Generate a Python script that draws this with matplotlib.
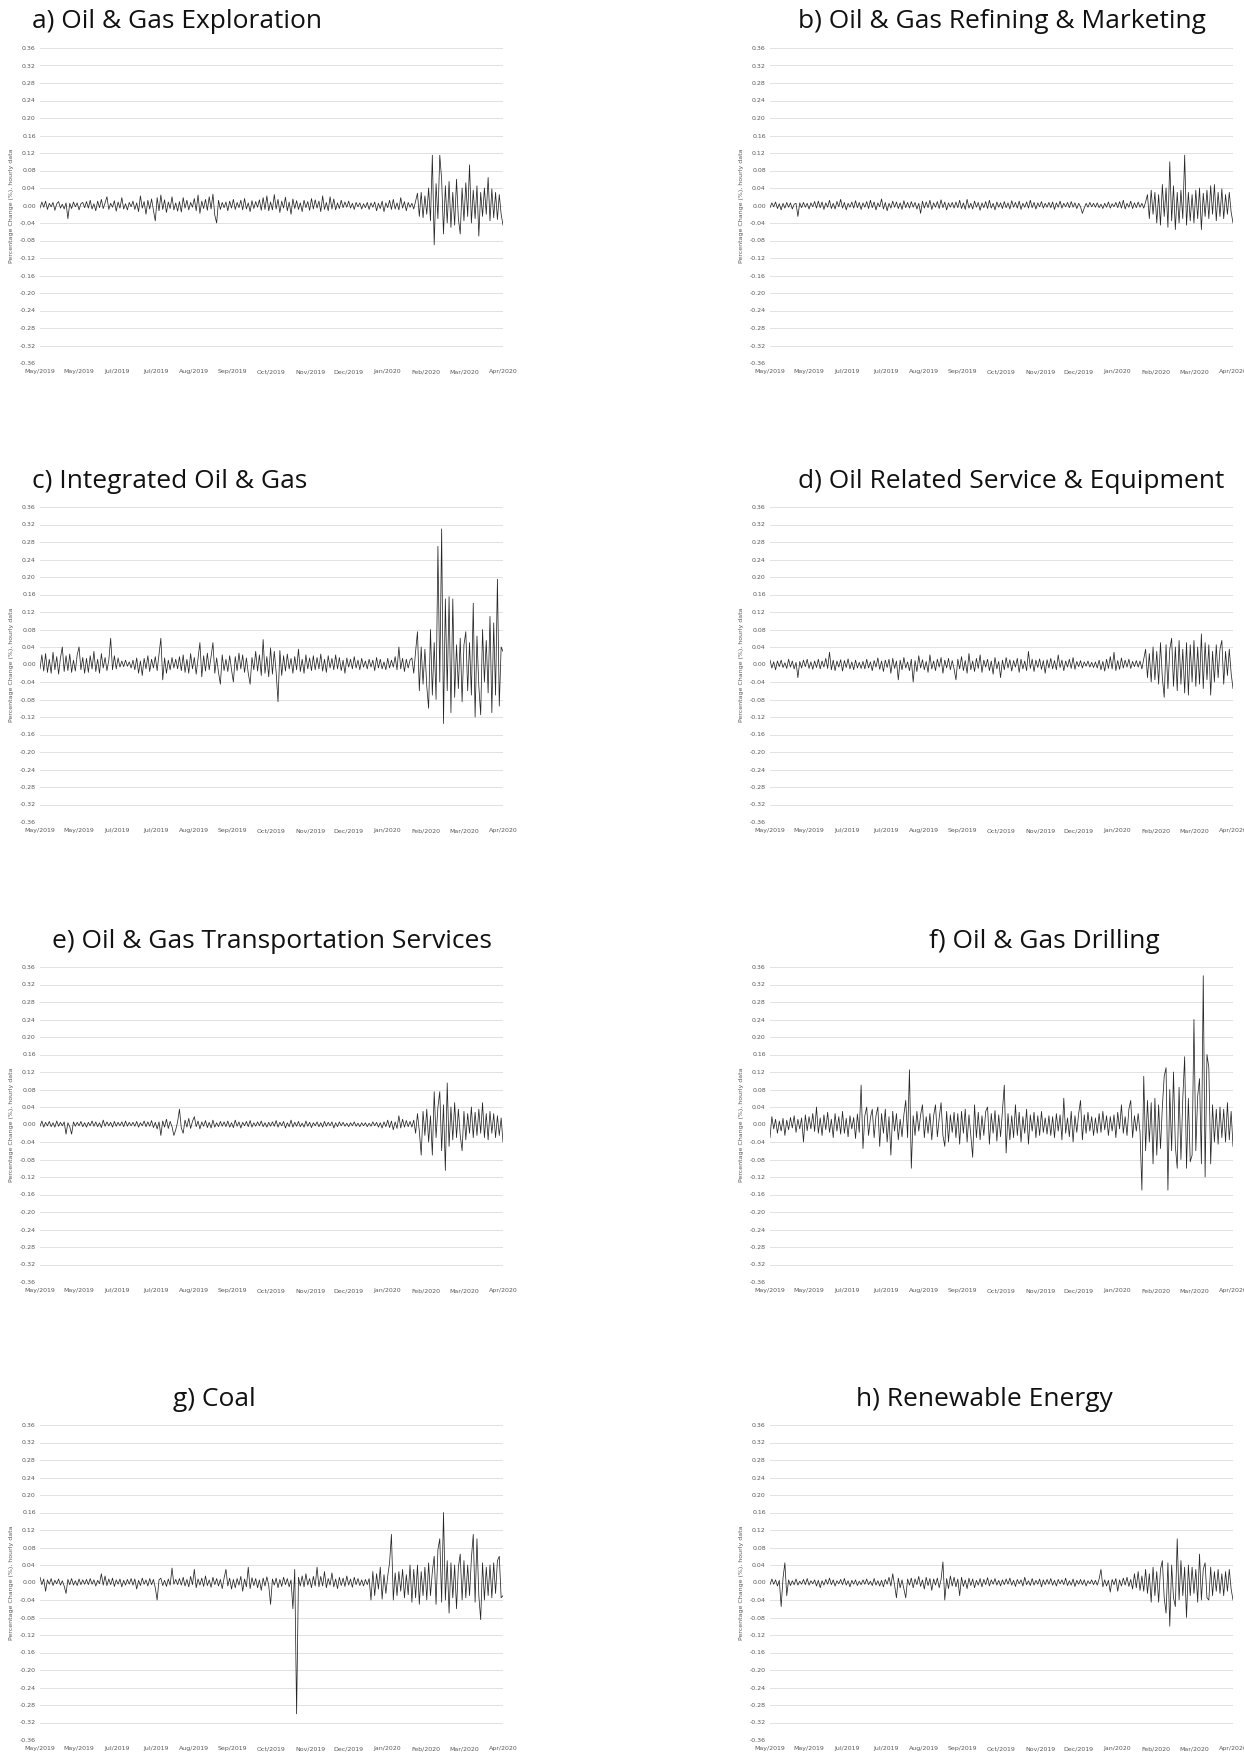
import numpy as np
import matplotlib
matplotlib.use('Agg')
import matplotlib.pyplot as plt

# Hourly percentage change per sector.
# Values are in thousandths (e.g. 115 -> 0.115), 250 samples each.
exploration = [
    -6, 8, -4, 10, -9, 5, -3, 7, -11, 4, 9, -6, 3, -8, 6, -30, 5, -7, 8, -3, 6, -10, 4, 7, -5,
    9, -6, 12, -8, 4, -12, 10, -5, 14, -7, 6, 20, -9, 5, -4, 11, -13, 8, -6, 18, -8, 4, -10, 7, -3,
    10, -9, 6, -14, 22, -6, 9, -20, 12, -8, 15, -11, -35, 18, -12, 24, -9, 13, -16, 8, -7, 20, -10, 6, -13,
    9, -15, 18, -6, 12, -10, 7, -4, 16, -12, 24, -18, 10, -7, 14, -11, 20, -8, 26, -22, -40, 12, -9, 7, -5,
    8, -12, 10, -6, 14, -9, 7, -5, 12, -10, 16, -8, 6, -14, 11, -7, 9, -4, 13, -11, 18, -9, 22, -12, 8,
    -10, 25, -8, 14, -16, 10, -6, 19, -12, 8, -20, 15, -7, 11, -9, 6, -14, 12, -5, 9, -11, 16, -8, 13, -6,
    10, -14, 22, -9, 7, -12, 20, -8, 15, -10, 6, -7, 12, -5, 8, -4, 10, -6, 5, -9, 7, -3, 6, -8, 4,
    -5, 7, -9, 6, -4, 8, -12, 5, -7, 10, -14, 6, -5, 12, -9, 14, -8, 6, -10, 18, -6, 9, -12, 7, -4,
    5, -8, 10, 28, -25, 30, -28, 22, -20, 40, -35, 115, -90, 50, -30, 115, 60, -65, 45, -40, 55, -50, 30, -45, 60,
    -30, -65, 40, -35, 52, -25, 93, -40, 35, -30, 45, -70, 30, -25, 40, -20, 64, -35, 38, -28, 30, -32, 25, -20, -45,
]
refining = [
    -5, 6, -3, 8, -7, 4, -10, 5, -6, 7, -4, 6, -8, 3, 5, -25, 6, -5, 7, -4, 5, -8, 6, -3, 9,
    -6, 10, -5, 8, -9, 6, -4, 12, -7, 5, -8, 9, -3, 14, -6, 7, -10, 5, -4, 8, -6, 11, -5, 7, -9,
    6, -4, 9, -7, 12, -5, 8, -10, 6, -3, 15, -8, 7, -12, 5, -6, 10, -4, 8, -7, 6, -9, 11, -5, 7,
    -6, 9, -4, 7, -8, 5, -18, 10, -6, 8, -5, 12, -9, 6, -4, 9, -7, 13, -5, 8, -10, 6, -4, 7, -6,
    8, -5, 12, -7, 6, -9, 14, -6, 5, -8, 10, -4, 7, -11, 6, -5, 9, -7, 12, -6, 5, -10, 8, -4, 6,
    -7, 9, -5, 6, -8, 11, -4, 7, -6, 10, -9, 5, -4, 8, -6, 12, -5, 7, -8, 6, -3, 9, -6, 5, -4,
    7, -5, 8, -9, 6, -4, 10, -6, 5, -3, 7, -5, 9, -4, 6, -7, 5, -3, -18, -6, 5, -4, 7, -3, 5,
    -4, 6, -5, 3, -7, 5, -4, 8, -6, 4, -3, 7, -5, 9, -6, 12, -8, 5, -4, 10, -7, 6, -5, 8, -4,
    5, -6, 8, 25, -30, 35, -20, 30, -40, 25, -45, 48, -25, 40, -50, 100, -35, 45, -55, 30, -40, 35, -30, 115, -45,
    30, -35, 25, -40, 35, -30, 40, -55, 28, -25, 35, -30, 45, -20, 48, -35, 30, -25, 38, -30, 25, -20, 30, -15, -40,
]
integrated = [
    -10, 22, -15, 25, -18, 12, -20, 28, -12, 18, -22, 15, 40, -16, 20, -14, 24, -18, 10, -15, 22, 40, -12, 16, -20,
    14, -18, 20, -10, 30, -16, 12, -20, 25, -8, 16, -14, 10, 60, -12, 20, -10, 15, -6, 8, -5, 10, -4, 6, -8,
    10, -12, 15, -20, 8, -25, 14, -10, 20, -16, 12, -8, 18, -14, 22, 60, -35, 15, -20, 10, -12, 16, -8, 12, -10,
    18, -14, 22, -18, 12, -20, 25, -10, 16, -22, 14, 50, -28, 20, -15, 26, -12, 18, 50, -20, 15, -18, -45, 22, -14,
    12, -16, 20, -12, -40, 18, -14, 26, -10, 22, -18, 15, -20, -45, 16, -12, 30, -15, 22, -25, 57, -20, 18, -28, 38,
    -22, 30, -18, -85, 32, -25, 20, -15, 24, -10, 14, -20, 18, -12, 35, -16, 12, -20, 22, -10, 15, -14, 20, -12, 16,
    -10, 24, -15, 12, -18, 20, -8, 14, -12, 22, -10, 16, -14, 10, -20, 15, -6, 12, -10, 18, -8, 10, -12, 14, -6,
    8, -10, 12, -6, 10, -14, 16, -8, 12, -10, 6, -12, 14, -8, 10, -6, 18, -12, 40, -10, 14, -16, 12, -8, 10,
    15, -20, 30, 75, -60, 40, -45, 35, -50, -100, 80, -70, 50, -80, 270, -40, 310, -135, 150, -60, 155, -110, 150, -75, 45,
    -55, 60, -85, 45, 75, -60, 50, -70, 140, -120, 65, -50, -115, 80, -40, 55, -65, 110, -110, 95, -70, 195, -95, 40, 30,
]
service = [
    10, -8, 6, -12, 8, -5, 10, -7, 4, -9, 12, -6, 8, -10, 5, -30, 7, -8, 10, -5, 12, -9, 6, -11, 8,
    -7, 12, -10, 8, -6, 14, -9, 28, -12, 10, -14, 8, -6, 11, -15, 9, -7, 13, -10, 6, -12, 10, -8, 5, -9,
    7, -10, 12, -8, 6, -14, 9, -6, 15, -11, 8, -16, 10, -7, 12, -20, 14, -9, 8, -35, 10, -12, 16, -8, 6,
    -14, 12, -40, 9, -16, 20, -8, 11, -12, 7, -18, 22, -10, 8, -14, 12, -6, 16, -20, 10, -8, 14, -12, 9, -10,
    -35, 12, -10, 18, -14, 9, -20, 25, -12, 8, -16, 14, -9, 22, -18, 10, -6, 12, -14, 8, -22, 16, -10, 7, -30,
    10, -12, 16, -8, 11, -15, 9, -6, 14, -18, 12, -10, 8, -14, 30, -9, 12, -16, 10, -7, 13, -11, 9, -20, 11,
    -8, 14, -10, 9, -12, 22, -7, 10, -14, 8, -6, 12, -9, 16, -11, 7, -5, 9, -8, 6, -4, 8, -6, 5, -7,
    6, -8, 10, -12, 7, -15, 12, -9, 18, -10, 28, -14, 9, -11, 15, -8, 10, -6, 12, -9, 7, -5, 9, -6, 8,
    -10, 12, 35, -30, 25, -40, 40, -35, 30, -45, 50, -30, -75, 45, -55, 35, 60, -50, 40, -60, 55, -45, 35, -65, 50,
    -70, 45, -40, 55, -50, 40, -45, 70, -55, 50, -35, 45, -70, 30, -40, 45, -30, 35, 55, -45, 30, -25, 35, -20, -55,
]
transport = [
    -4, 8, -6, 5, -3, 7, -5, 4, -6, 8, -4, 5, -3, 6, -22, 4, -5, -22, 6, -4, 5, -3, 7, -5, 4,
    -6, 5, -3, 8, -4, 6, -5, 4, -7, 10, -4, 6, -3, 5, -6, 7, -4, 5, -3, 6, -5, 8, -4, 5, -3,
    5, -4, 7, -6, 4, -3, 8, -5, 6, -4, 9, -7, 5, -10, 6, -25, 8, -6, 12, -9, 7, -5, -25, -12, 6,
    35, -8, -20, 10, -6, 14, -9, 7, 18, -5, 8, -10, 6, -4, 9, -7, 5, -8, 10, -6, 4, -5, 7, -4, 6,
    -5, 8, -6, 4, -7, 10, -4, 6, -8, 5, -3, 7, -5, 9, -6, 4, -4, 6, -3, 8, -5, 4, -6, 5, -4,
    6, -4, 9, -6, 5, -3, 7, -8, 4, -5, 10, -6, 5, -4, 7, -5, 3, -6, 8, -4, 5, -7, 4, -3, 6,
    -5, 4, -6, 7, -4, 5, -3, 6, -8, 4, -5, 6, -3, 5, -4, 3, -5, 4, -3, 6, -4, 3, -5, 4, -3,
    4, -5, 3, -4, 6, -3, 5, -6, 4, -8, 6, -5, 10, -7, 8, -12, 6, -9, 20, -8, 12, -6, 9, -5, 7,
    -6, 10, -20, 25, -15, -70, 30, -25, 35, -40, 20, -70, 75, -30, 40, 75, -60, 45, -105, 95, -50, 40, -35, 50, -30,
    35, -25, -60, 30, -35, 25, -20, 40, -30, 28, -25, 35, -20, 50, -30, 25, -35, 30, -20, 25, -30, 20, -25, 15, -40,
]
drilling = [
    -30, 18, -10, 12, -20, 8, -15, 14, -25, 10, -12, 16, -8, 20, -18, 12, -10, 15, -40, 22, -14, 18, -10, 25, -16,
    40, -20, 15, -25, 22, -12, 28, -18, 12, -30, 25, -15, 18, -22, 30, -20, 14, -28, 20, -10, 16, -32, 24, -18, 90,
    -55, 20, 40, -25, 15, 35, -30, 20, 40, -50, 25, -20, 35, -40, 18, -70, 30, -15, 25, -35, 12, -28, 22, 55, -30,
    125, -100, 20, -25, 30, -15, 22, 45, -30, 18, -20, 25, -35, 20, 45, -28, 15, 50, -25, -50, 30, -40, 22, -18, 28,
    -30, 25, -45, 30, -20, 35, -40, 22, -25, -75, 45, -30, 28, -35, 20, -25, 30, 40, -45, 25, -20, 32, -38, 22, -28,
    30, 90, -65, 25, -35, 20, -30, 45, -25, 28, -40, 18, -20, 35, -45, 22, -15, 28, -30, 20, -25, 30, -18, 15, -22,
    20, -25, 18, -30, 25, -15, 22, -35, 60, -20, 15, -28, 30, -40, 20, -18, 25, 55, -35, 22, -20, 28, -15, 18, -25,
    15, -20, 25, -18, 30, -12, 20, -25, 18, -15, 22, -30, 28, -10, 45, -20, 18, -25, 35, 55, -30, 20, -15, 25, -18,
    -150, 110, -60, 55, -40, 50, -90, 60, -70, 45, -55, 40, 110, 130, -150, 80, -60, 120, -50, -100, 85, -80, 60, 155, -100,
    60, -85, -70, 240, -60, 65, 105, -90, 340, -120, 160, 130, -90, 45, -40, 35, -45, 40, -30, 35, -40, 50, -35, 30, -50,
]
coal = [
    12, -5, 8, -20, 6, -4, 9, -7, 5, -3, 8, -6, 4, -8, -25, 7, -5, 9, -6, 4, -7, 8, -5, 6, -4,
    7, -5, 9, -4, 6, -8, 5, -3, 20, -6, 15, -7, 8, -5, 10, -9, 6, -4, 8, -10, 5, -6, 7, -4, 9,
    -6, 8, -15, 5, -7, 10, -4, 6, -8, 9, -5, 7, -12, -40, 6, 10, -7, 5, -9, 8, -6, 33, -4, 7, -5,
    9, -6, 12, -8, 7, -10, 14, -5, 30, -12, 8, -6, 10, -9, 15, -7, 6, -11, 12, -5, 9, -8, 7, -14, 10,
    30, -8, 10, -15, 7, -12, 9, -6, 14, -20, 8, -10, 35, -14, 11, -7, 9, -12, 6, -18, 10, -8, 13, -6, -50,
    8, -6, 10, -12, 7, -9, 12, -5, 9, -10, 6, -60, 30, -300, 12, -8, 15, -10, 20, -6, 9, -12, 14, -8, 35,
    -10, 14, -8, 25, -12, 9, -6, 22, -10, 8, -14, 12, -7, 10, -9, 15, -6, 8, -11, 12, -5, 9, -7, 6, -8,
    7, -5, 9, -40, 25, -30, 20, -15, 35, -38, 18, -25, 15, 45, 110, -40, 22, -30, 25, -20, 30, -35, 18, -28, 40,
    -45, 30, -35, 40, -50, 25, -30, 35, -40, 45, -30, 25, 60, -50, 75, 100, -45, 160, -40, 50, -70, 45, -35, 40, -60,
    35, 65, -40, 50, -35, 40, -30, 55, 110, -45, 100, -30, -85, 45, -40, 35, -30, 40, -35, 45, -25, 50, 60, -35, -30,
]
renewable = [
    -5, 8, -4, 6, -8, 5, -55, 10, 45, -30, 6, -7, 4, -5, 8, -6, 3, -4, 7, -5, 9, -6, 4, -3, 6,
    -8, 5, -12, 4, -6, 7, -4, 10, -5, 6, -8, 4, -3, 7, -5, 9, -6, 4, -10, 5, -4, 6, -7, 3, -5,
    6, -4, 8, -5, 3, -7, 9, -6, 4, -8, 5, -10, 7, -4, 12, -8, 20, -6, -35, 10, -12, 6, -15, -35, 8,
    -6, 10, -12, 8, -5, 14, -9, 6, -15, 12, -7, 9, -18, 8, -6, 10, -12, 7, 47, -40, 9, -14, 15, -8, 12,
    -10, 8, -30, 12, -9, 6, -14, 10, -7, 8, -12, 5, -6, 9, -10, 7, -5, 11, -8, 6, -4, 9, -6, 5, -8,
    6, -5, 8, -4, 10, -6, 5, -9, 7, -3, 6, -8, 12, -5, 4, -7, 9, -6, 5, -4, 8, -10, 6, -5, 7,
    -4, 9, -6, 5, -8, 7, -3, 6, -5, 10, -7, 4, -6, 8, -9, 5, -4, 7, -5, 6, -8, 4, -3, 6, -5,
    5, -6, 8, 30, -10, 6, -8, 5, -22, 7, -5, 9, -20, 6, -8, 10, -6, 12, -9, 7, -15, 20, -12, 25, -18,
    15, -20, 30, -25, 20, -45, 35, -30, 25, -45, 30, 50, -35, -70, 45, -100, 40, -35, -55, 100, -40, 50, -30, 35, -80,
    40, -30, 35, -25, 30, -45, 65, -40, 30, 45, -35, -40, 35, -30, 25, -20, 30, -25, 20, -30, 25, -20, 30, -15, -40,
]

titles = ['a) Oil & Gas Exploration', 'b) Oil & Gas Refining & Marketing',
          'c) Integrated Oil & Gas', 'd) Oil Related Service & Equipment',
          'e) Oil & Gas Transportation Services', 'f) Oil & Gas Drilling',
          'g) Coal', 'h) Renewable Energy']
month_labels = ['May/2019', 'May/2019', 'Jul/2019', 'Jul/2019', 'Aug/2019', 'Sep/2019', 'Oct/2019',
                'Nov/2019', 'Dec/2019', 'Jan/2020', 'Feb/2020', 'Mar/2020', 'Apr/2020']
y_ticks = np.linspace(-0.36, 0.36, 19)

series = [exploration, refining, integrated, service, transport, drilling, coal, renewable]

# layout in pixels of the 1244x1754 page
W, H = 1244, 1754
col_left = [40, 770]
row_top = [48, 507, 967, 1425]
ax_w, ax_h = 463, 315
title_x = [32, 798, 32, 798, 52, 929, 173, 856]

fig = plt.figure(figsize=(W / 100, H / 100), dpi=100)

for k, vals in enumerate(series):
    row, col = divmod(k, 2)
    ax = fig.add_axes([col_left[col] / W, 1 - (row_top[row] + ax_h) / H, ax_w / W, ax_h / H])
    y = np.array(vals) / 1000
    x = np.arange(len(y))
    ax.plot(x, y, color='#262626', lw=0.55)
    ax.set_xlim(0, len(y) - 1)
    ax.set_ylim(-0.36, 0.36)
    ax.set_yticks(y_ticks)
    ax.set_yticklabels([f'{t:.2f}'.replace('-0.00', '0.00') for t in y_ticks])
    ax.set_xticks(np.linspace(0, len(y) - 1, len(month_labels)))
    ax.set_xticklabels(month_labels)
    ax.tick_params(axis='both', length=0, labelsize=4.5, colors='#595959', pad=3)
    ax.tick_params(axis='x', pad=4.5)
    ax.grid(axis='y', color='#dcdcdc', lw=0.6)
    ax.set_axisbelow(True)
    for s in ax.spines.values():
        s.set_visible(False)
    ax.set_ylabel('Percentage Change (%), hourly data', fontsize=4.5, color='#595959')
    ax.yaxis.set_label_coords(-26 / ax_w, 0.5)

    fig.text(title_x[k] / W, 1 - (row_top[row] - 26) / H, titles[k],
             fontsize=19, family='Open Sans', ha='left', va='center', color='#111111')

fig.savefig('out.png', dpi=100)
